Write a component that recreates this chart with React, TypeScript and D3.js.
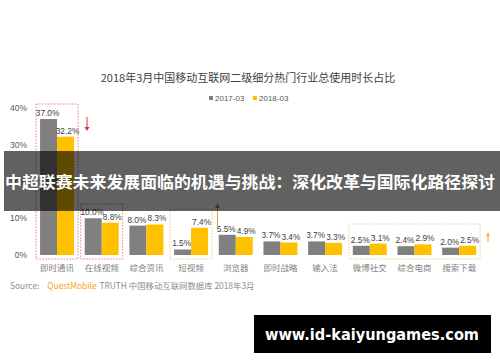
import React, { useEffect } from "react";
import * as d3 from "d3";

const categories = ["即时通讯", "在线视频", "综合资讯", "短视频", "浏览器", "即时战略", "输入法", "微博社交", "综合电商", "搜索下载"];
const series2017 = [37.0, 10.0, 8.0, 1.5, 5.5, 3.7, 3.7, 2.5, 2.4, 2.0];
const series2018 = [32.2, 8.8, 8.3, 7.4, 4.9, 3.4, 3.3, 3.1, 2.9, 2.5];
const yTicks = [0, 10, 20, 30, 40];
const seriesNames = ["2017-03", "2018-03"];
const title = "2018年3月中国移动互联网二级细分热门行业总使用时长占比";
const banner = "中超联赛未来发展面临的机遇与挑战：深化改革与国际化路径探讨";
const watermark = "www.id-kaiyungames.com";

const W = 500, H = 362;
const GRAY = "#808080";
const YELLOW = "#FFC000";
const CJK = "'Noto Sans CJK SC', 'Noto Sans', sans-serif";
const LAT = "'Liberation Sans', Arial, sans-serif";

export default function App() {
  useEffect(() => { document.body.style.margin = "0"; }, []);
  const x = d3.scaleBand<string>().domain(categories).range([34.7, 481.5]).paddingInner(0.24).paddingOuter(0.12);
  const xs = d3.scaleBand<string>().domain(seriesNames).range([0, x.bandwidth()]);
  const y = d3.scaleLinear().domain([0, 40]).range([255, 108]);
  const series = [series2017, series2018];
  const colors = [GRAY, YELLOW];
  const labelShift = [-1, 2];
  const gx = (i: number) => x(categories[i]) as number;
  const boxOf = (i0: number, i1: number, top: number) => ({
    x0: gx(i0) - 4, x1: gx(i1) + x.bandwidth() + 4, y0: top, y1: y(0) + 4,
  });
  const b1 = boxOf(0, 0, 104);
  const b2 = boxOf(1, 1, 204);
  const b3 = boxOf(3, 3, 209);
  const b4 = boxOf(7, 9, 224);
  return (
    <svg width={W} height={H} style={{ display: "block", background: "#fff" }}>
      <text x={248} y={82} textAnchor="middle" fontFamily={CJK} fontSize={11} fill="#404040">{title}</text>
      {/* legend */}
      <rect x={209} y={96} width={4} height={4} fill={GRAY} />
      <text x={215} y={101} fontFamily={LAT} fontSize={8} fill="#595959">{seriesNames[0]}</text>
      <rect x={253} y={96} width={4} height={4} fill={YELLOW} />
      <text x={259} y={101} fontFamily={LAT} fontSize={8} fill="#595959">{seriesNames[1]}</text>
      {/* y ticks */}
      {yTicks.map((t) => (
        <text key={t} x={27} y={y(t) + 3} textAnchor="end" fontFamily={LAT} fontSize={8.5} fill="#595959">{t}%</text>
      ))}
      {/* bars */}
      {categories.map((c, i) => (
        <g key={c} transform={`translate(${gx(i)},0)`}>
          {series.map((s, k) => (
            <g key={k}>
              <rect x={xs(seriesNames[k])} y={y(s[i])} width={xs.bandwidth()} height={y(0) - y(s[i])} fill={colors[k]} />
              <text x={(xs(seriesNames[k]) as number) + xs.bandwidth() / 2 + labelShift[k]} y={y(s[i]) - 3} textAnchor="middle" fontFamily={LAT} fontSize={8.3} fill="#404040">{s[i].toFixed(1)}%</text>
            </g>
          ))}
          <text x={x.bandwidth() / 2} y={271} textAnchor="middle" fontFamily={CJK} fontSize={8.5} fill="#7f7f7f">{c}</text>
        </g>
      ))}
      {/* dashed boxes */}
      {[b1, b2].map((b, i) => (
        <rect key={"r" + i} x={b.x0} y={b.y0} width={b.x1 - b.x0} height={b.y1 - b.y0} fill="none" stroke="#d9606a" strokeWidth={0.8} strokeDasharray="1.5,1.5" />
      ))}
      {[b3, b4].map((b, i) => (
        <rect key={"o" + i} x={b.x0} y={b.y0} width={b.x1 - b.x0} height={b.y1 - b.y0} fill="none" stroke="#e8c06a" strokeWidth={0.8} strokeDasharray="1.5,1.5" />
      ))}
      {/* arrows */}
      <line x1={87} y1={117} x2={87} y2={128} stroke="#e0303a" strokeWidth={1} />
      <path d="M84.5,127 L89.5,127 L87,131 Z" fill="#e0303a" />
      <line x1={217.5} y1={207} x2={217.5} y2={228} stroke="#d9a440" strokeWidth={1} />
      <path d="M215,208 L220,208 L217.5,203 Z" fill="#c08a30" />
      <line x1={488} y1={235} x2={488} y2={242} stroke="#f5a623" strokeWidth={1} />
      <path d="M486,236 L490,236 L488,232.5 Z" fill="#f5a623" />
      {/* source */}
      <text x={10} y={289} fontFamily={CJK} fontSize={8.4} fill="#8c8c8c">
        Source:<tspan dx={8} fill="#f5a623">QuestMobile</tspan><tspan dx={1}> TRUTH 中国移动互联网数据库 2018年3月</tspan>
      </text>
      {/* banner overlay */}
      <rect x={4} y={151} width={496} height={60} fill="#000" fillOpacity={0.62} />
      <text x={250} y={188} textAnchor="middle" fontFamily={CJK} fontWeight={700} fontSize={16.4} fill="#fff" textLength={490} lengthAdjust="spacingAndGlyphs">{banner}</text>
      {/* watermark */}
      <rect x={254} y={315} width={237} height={38} fill="#000" />
      <text x={372} y={339.5} textAnchor="middle" fontFamily="'DejaVu Sans', sans-serif" fontWeight={700} fontSize={15} fill="#fff" textLength={214} lengthAdjust="spacingAndGlyphs">{watermark}</text>
    </svg>
  );
}
